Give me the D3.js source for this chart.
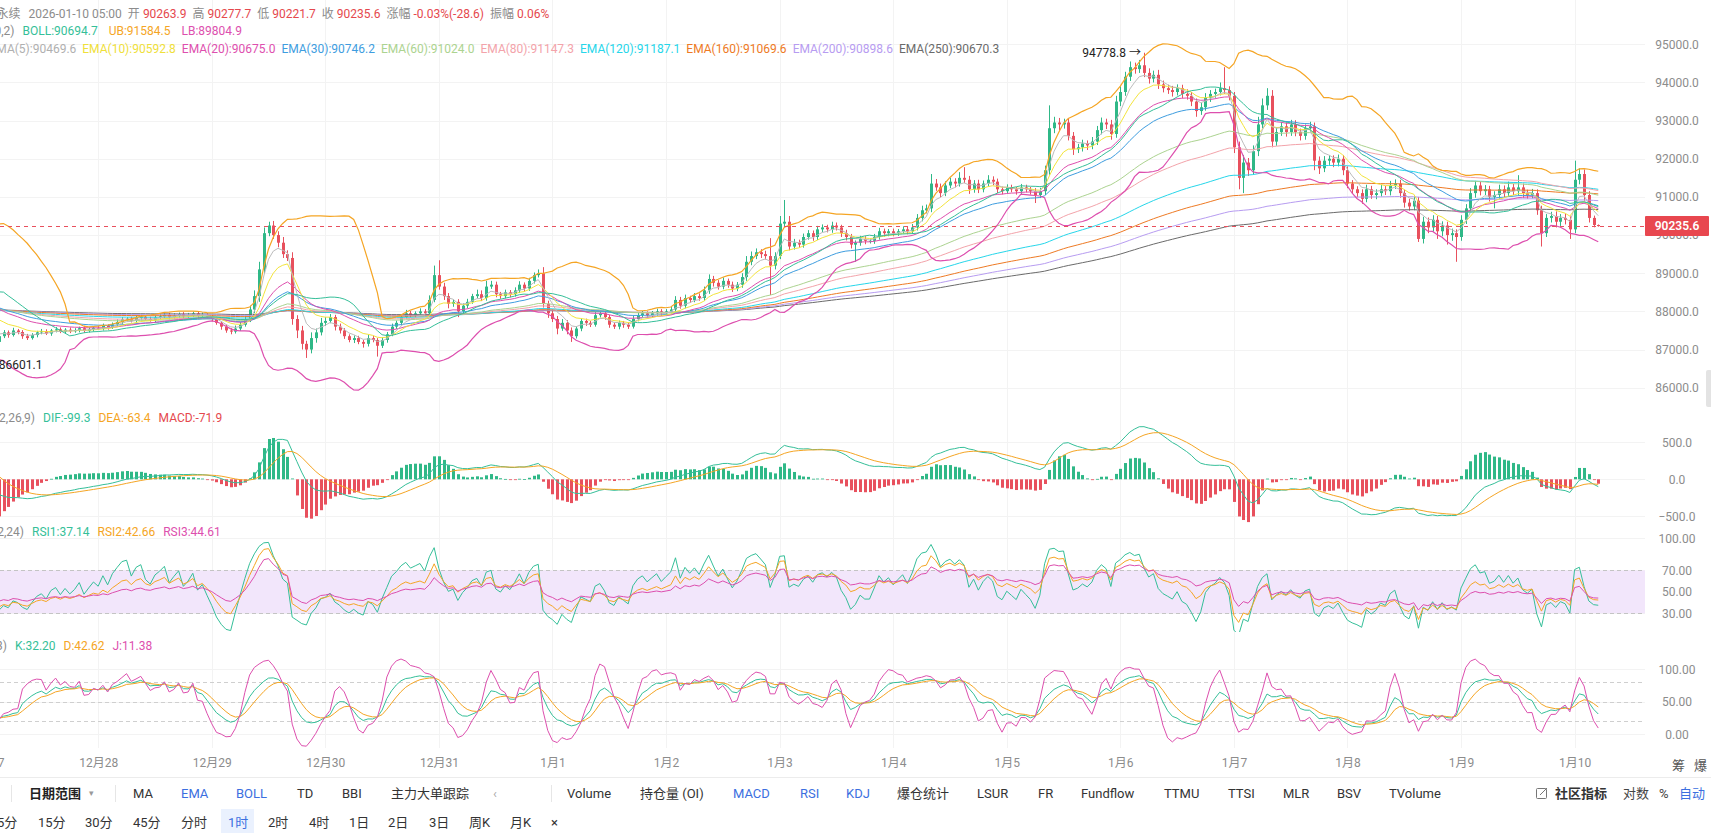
<!DOCTYPE html>
<html><head><meta charset="utf-8">
<script src="https://cdn.jsdelivr.net/npm/d3@7"></script>
<style>
html,body{margin:0;padding:0;background:#fff;overflow:hidden}
svg{display:block;font-family:Roboto,"Noto Sans CJK SC",sans-serif}
</style></head><body>
<svg id="c" width="1711" height="833"></svg>
<script>
// ---------------- DATA ----------------
const startUTC = Date.UTC(2025, 11, 26, 0);   // first hourly candle
const firstOpen = 87550;
const closes = [
 87600,87550,87650,87600,87500,87580,87620,87550,87600,89300,89250,89350,89200,89150,89200,89050,89100,88950,89000,88900,88850,88950,88900,87100,
 86850,87000,87200,87350,87450,87380,87500,87460,87350,87300,87380,87450,87480,87420,87500,87530,87470,87520,87480,87510,87560,87490,87530,87570,
 87550,87620,87580,87660,87720,87790,87810,87750,87830,87860,87800,87780,87840,87870,87910,87850,87890,87930,87870,87900,87950,87880,87910,87860,
 87800,87700,87600,87500,87470,87550,87650,87800,88050,88400,89100,90050,90250,90000,89800,89500,89400,87800,87500,87150,87000,87300,87450,87700,
 87750,87850,87600,87500,87350,87250,87300,87200,87150,87300,87250,87100,87250,87400,87600,87700,87850,87950,87900,87950,88000,87950,88300,88950,
 88650,88400,88200,88250,88000,88150,88250,88400,88450,88350,88650,88700,88450,88400,88500,88450,88550,88700,88600,88800,88950,89000,88200,87950,
 87800,87550,87700,87500,87350,87550,87750,87700,87650,87900,87950,87850,87650,87600,87700,87650,87600,87800,87900,87950,87900,87950,88000,87950,
 88000,88050,88300,88150,88350,88300,88400,88350,88550,88850,88750,88650,88800,88700,88600,88700,88900,89300,89450,89550,89500,89450,89200,89450,
 90300,90350,89700,89800,89750,89950,90050,89950,90150,90200,90150,90250,90200,90050,89950,89750,89800,89900,89850,89850,89950,90100,90050,90100,
 90050,90100,90150,90100,90200,90450,90650,90700,91350,91250,91100,91300,91400,91350,91500,91450,91200,91350,91200,91350,91450,91400,91200,91150,
 91250,91200,91150,91250,91200,91150,91050,91150,91700,92800,92950,92900,92950,92600,92250,92300,92400,92350,92450,92750,92950,92900,92650,93500,
 93750,94150,94400,94350,94450,94250,94100,94200,93950,93850,93800,93750,93850,93700,93650,93500,93250,93350,93600,93700,93750,93850,93800,93650,
 92300,91500,91900,91700,92200,92900,93400,93650,92450,92700,92850,92700,92900,92700,92600,92800,92850,91950,91750,91950,92000,91900,92000,91700,
 91350,91200,91100,90950,91200,91050,91100,91200,91150,91300,91350,91100,90850,90750,90900,89900,90350,90200,90400,90100,90250,90000,90050,89950,
 90400,90700,91100,91300,91150,91200,91000,91050,91200,91100,91250,91150,91250,91100,91050,91100,90650,90050,90450,90500,90350,90450,90400,90150,
 91450,91600,91050,90450,90263.9,90235.6
];
const upperWicks = [
 60,50,80,40,50,60,40,50,70,150,60,80,50,60,70,50,60,80,50,60,70,50,60,90,
 150,100,80,70,60,50,70,40,50,60,50,40,60,50,40,60,50,40,60,50,40,60,50,40,
 50,60,40,50,70,60,40,50,60,50,40,60,50,70,40,50,60,40,50,60,40,50,60,40,
 50,60,40,50,60,80,70,90,100,150,200,150,100,120,100,150,100,150,100,120,80,150,100,130,
 100,80,60,80,60,50,70,60,50,80,60,50,70,60,80,60,50,90,60,50,80,60,120,250,
 390,100,80,60,70,60,80,60,120,100,150,100,80,60,70,60,80,90,60,80,70,100,160,80,
 100,80,100,70,80,60,70,60,50,80,60,70,60,50,60,50,60,80,70,60,50,60,70,60,
 60,70,100,80,90,60,80,70,100,120,80,70,90,60,80,70,100,150,120,100,80,90,470,100,
 200,570,150,100,80,90,80,70,90,80,70,100,80,70,90,80,60,80,70,60,80,90,70,60,
 70,60,80,70,90,100,120,100,250,120,100,110,100,90,150,280,100,90,100,80,120,90,80,70,
 80,70,60,90,70,60,80,90,120,600,150,120,100,110,100,90,100,80,120,110,130,100,120,150,
 150,130,150,120,140,328.8,120,110,130,100,90,110,100,90,120,100,80,110,120,100,90,150,550,100,
 100,150,200,120,150,200,180,200,150,120,110,100,120,110,90,100,120,100,110,120,100,90,110,100,
 100,90,80,100,120,90,100,110,90,120,110,100,90,100,110,100,130,110,120,100,110,100,120,100,
 120,110,130,120,100,110,90,100,120,100,150,90,320,100,90,110,100,120,100,110,120,100,110,90,
 500,150,120,100,60,13.8
];
const lowerWicks = [
 50,60,40,60,50,40,60,50,40,80,60,40,50,40,60,80,60,70,50,60,80,70,60,498.9,
 150,100,80,60,50,70,40,60,70,50,40,60,50,40,60,50,40,60,50,40,60,50,40,60,
 40,50,60,40,50,60,50,40,60,50,40,50,60,40,50,60,40,50,60,40,50,60,40,50,
 60,50,80,60,70,50,60,50,80,100,150,120,80,100,120,100,80,150,200,150,220,100,120,80,
 80,60,100,80,70,60,80,60,100,70,60,285,60,70,50,60,70,50,60,70,50,60,80,60,
 80,100,120,80,150,60,70,50,60,80,70,60,80,70,60,80,60,70,80,60,70,60,100,120,
 80,150,60,100,150,60,70,80,60,50,60,70,80,60,70,80,60,50,60,70,60,50,60,70,
 60,50,60,80,70,80,60,70,80,90,100,80,70,80,90,70,80,100,90,80,100,90,770,100,
 80,100,100,80,90,80,70,100,80,70,80,90,80,100,90,100,450,80,90,70,80,70,90,80,
 80,70,60,80,70,80,90,80,100,90,110,80,70,100,80,90,120,90,100,80,70,90,100,80,
 70,80,90,70,80,90,210,80,100,120,130,150,110,120,150,100,110,120,100,90,110,120,150,100,
 120,100,110,120,100,110,130,100,120,110,100,120,90,110,100,120,150,100,90,110,100,90,100,120,
 150,300,400,150,120,130,100,120,150,110,100,120,100,110,120,100,90,250,150,100,110,120,100,130,
 120,100,110,130,90,100,110,90,100,110,90,120,130,110,100,80,120,150,110,200,130,250,150,650,
 100,110,100,120,110,100,120,300,100,110,90,100,110,120,100,90,120,350,100,120,150,110,120,250,
 100,120,150,120,60,13.9
];
const emaPeriods = [5,10,20,30,60,80,120,160,200,250];
const emaSeeds   = [87600,87600,87600,87650,87800,87850,87900,87950,87970,87990];
const emaColors  = ["#bcbcbc","#f3e43c","#de4fae","#3e9ddf","#acd390","#f3a3aa","#26d6ea","#ee7a24","#b79cf1","#6a6a6a"];
const emaLegend  = ["EMA(5):90469.6","EMA(10):90592.8","EMA(20):90675.0","EMA(30):90746.2","EMA(60):91024.0","EMA(80):91147.3","EMA(120):91187.1","EMA(160):91069.6","EMA(200):90898.6","EMA(250):90670.3"];
const bollLegend = ["BOLL:90694.7","UB:91584.5","LB:89804.9"];
const macdLegend = ["DIF:-99.3","DEA:-63.4","MACD:-71.9"];
const rsiLegend  = ["RSI1:37.14","RSI2:42.66","RSI3:44.61"];
const kdjLegend  = ["K:32.20","D:42.62","J:11.38"];
const headerLabels = ["开","高","低","收","涨幅","振幅"];
const headerValues = ["90263.9","90277.7","90221.7","90235.6","-0.03%(-28.6)","0.06%"];
const xLabels = ["12月27","12月28","12月29","12月30","12月31","1月1","1月2","1月3","1月4","1月5","1月6","1月7","1月8","1月9","1月10"];
const priceTicks = [86000,87000,88000,89000,90000,91000,92000,93000,94000,95000];
const macdTicks = [-500,0,500];
const rsiTicks = [30,50,70,100];
const kdjTicks = [0,50,100];
const toolbarItems = ["MA","EMA","BOLL","TD","BBI","主力大单跟踪","Volume","持仓量 (OI)","MACD","RSI","KDJ","爆仓统计","LSUR","FR","Fundflow","TTMU","TTSI","MLR","BSV","TVolume"];
const toolbarActive = ["EMA","BOLL","MACD","RSI","KDJ"];
const periods = ["5分","15分","30分","45分","分时","1时","2时","4时","1日","2日","3日","周K","月K","×"];
const activePeriod = "1时";

// ---------------- LAYOUT (pixel positions of toolbar texts) ----------------
const toolbarX = [133,181,236,297,342,391,567,640,733,800,846,897,977,1038,1081,1164,1228,1283,1337,1389];
const periodX = [-3,38,85,133,181,228,268,309,349,388,429,469,510,551];

// ---------------- COLORS ----------------
const UP = "#2fb887", DOWN = "#e8505d", TEAL = "#35bf99", ORANGE = "#f5a524", MAG = "#dd4fae", GRAY = "#8c8c8c", BLUE = "#3b6fe0";

// ---------------- SETUP ----------------
const svg = d3.select("#c");
const PR = 1645;
const hour = 3600000;
const candles = closes.map((c, i) => {
  const o = i ? closes[i - 1] : firstOpen;
  return { t: new Date(startUTC + i * hour), o, c, h: Math.max(o, c) + upperWicks[i], l: Math.min(o, c) - lowerWicks[i] };
});
const times = candles.map(d => d.t);

const x = d3.scaleUtc().domain([new Date(Date.UTC(2025, 11, 27)), new Date(Date.UTC(2026, 0, 10))]).range([-15.4, 1574.6]);
const yP = d3.scaleLinear().domain([86000, 95000]).range([387.7, 44.3]);
const yM = d3.scaleLinear().domain([-500, 500]).range([516.3, 442.3]);
const yR = d3.scaleLinear().domain([30, 100]).range([613.3, 538.3]);
const yK = d3.scaleLinear().domain([0, 100]).range([734.3, 669.3]);

// ---------------- INDICATORS ----------------
function ema(arr, n, seed) { let e = seed; return arr.map(v => (e = (2 * v + (n - 1) * e) / (n + 1))); }
const emas = emaPeriods.map((n, k) => ema(closes, n, emaSeeds[k]));
const boll = closes.map((c, i) => {
  if (i < 19) return null;
  const w = closes.slice(i - 19, i + 1);
  const m = d3.mean(w);
  const sd = Math.sqrt(d3.mean(w, v => (v - m) * (v - m)));
  return { m, u: m + 2 * sd, l: m - 2 * sd };
});
const e12 = ema(closes, 12, closes[0]), e26 = ema(closes, 26, closes[0]);
const dif = e12.map((v, i) => v - e26[i]);
const dea = ema(dif, 9, 0);
const macd = dif.map((v, i) => 2 * (v - dea[i]));
function rsi(n) {
  let up = 10, all = 20;
  return closes.map((c, i) => {
    if (i === 0) return 50;
    const ch = c - closes[i - 1];
    up = (Math.max(ch, 0) + (n - 1) * up) / n;
    all = (Math.abs(ch) + (n - 1) * all) / n;
    return all === 0 ? 50 : 100 * up / all;
  });
}
const rsi1 = rsi(6), rsi2 = rsi(12), rsi3 = rsi(24);
let K = 50, D = 50;
const kArr = [], dArr = [], jArr = [];
candles.forEach((d, i) => {
  const w = candles.slice(Math.max(0, i - 8), i + 1);
  const lo = d3.min(w, v => v.l), hi = d3.max(w, v => v.h);
  const rsv = hi === lo ? 50 : (d.c - lo) / (hi - lo) * 100;
  K = (2 * K + rsv) / 3; D = (2 * D + K) / 3;
  kArr.push(K); dArr.push(D); jArr.push(3 * K - 2 * D);
});

// ---------------- CLIPS ----------------
const defs = svg.append("defs");
function clip(id, y0, y1) { defs.append("clipPath").attr("id", id).append("rect").attr("x", 0).attr("y", y0).attr("width", PR).attr("height", y1 - y0); }
clip("cMain", 0, 398); clip("cMacd", 400, 527); clip("cRsi", 527, 632); clip("cKdj", 632, 748);

// ---------------- GRID ----------------
const grid = svg.append("g").attr("stroke", "#f3f3f3").attr("stroke-width", 1);
const dayTicks = xLabels.map((_, k) => new Date(Date.UTC(2025, 11, 27 + k)));
grid.selectAll("line.v").data(dayTicks).join("line").attr("x1", d => Math.round(x(d)) + 0.5).attr("x2", d => Math.round(x(d)) + 0.5).attr("y1", 0).attr("y2", 748);
const hLines = [...priceTicks.map(v => yP(v)), ...macdTicks.map(v => yM(v)), ...rsiTicks.map(v => yR(v)), ...kdjTicks.map(v => yK(v))];
grid.selectAll("line.h").data(hLines).join("line").attr("x1", 0).attr("x2", PR).attr("y1", d => Math.round(d) + 0.5).attr("y2", d => Math.round(d) + 0.5);

// ---------------- MAIN PANEL ----------------
const gMain = svg.append("g").attr("clip-path", "url(#cMain)");
const line = (arr, ys) => d3.line().defined(v => v != null && isFinite(v)).x((v, i) => x(times[i])).y(v => ys(v))(arr);

const gC = gMain.append("g");
gC.selectAll("line").data(candles).join("line")
  .attr("x1", d => Math.round(x(d.t)) + 0.5).attr("x2", d => Math.round(x(d.t)) + 0.5)
  .attr("y1", d => yP(d.h)).attr("y2", d => yP(d.l))
  .attr("stroke", d => d.c >= d.o ? UP : DOWN).attr("stroke-width", 1);
gC.selectAll("rect").data(candles).join("rect")
  .attr("x", d => Math.round(x(d.t)) - 1).attr("width", 3)
  .attr("y", d => yP(Math.max(d.o, d.c)))
  .attr("height", d => Math.max(1, yP(Math.min(d.o, d.c)) - yP(Math.max(d.o, d.c))))
  .attr("fill", d => d.c >= d.o ? UP : DOWN);

emas.map((arr, k) => ({ arr, k })).reverse().forEach(({ arr, k }) => {
  gMain.append("path").attr("d", line(arr, yP)).attr("fill", "none").attr("stroke", emaColors[k]).attr("stroke-width", 1);
});
gMain.append("path").attr("d", line(boll.map(b => b && b.u), yP)).attr("fill", "none").attr("stroke", ORANGE).attr("stroke-width", 1.2);
gMain.append("path").attr("d", line(boll.map(b => b && b.l), yP)).attr("fill", "none").attr("stroke", MAG).attr("stroke-width", 1.2);
gMain.append("path").attr("d", line(boll.map(b => b && b.m), yP)).attr("fill", "none").attr("stroke", TEAL).attr("stroke-width", 1);

const last = candles[candles.length - 1];
svg.append("line").attr("x1", 0).attr("x2", PR).attr("y1", Math.round(yP(last.c)) + 0.5).attr("y2", Math.round(yP(last.c)) + 0.5)
  .attr("stroke", DOWN).attr("stroke-dasharray", "4,4").attr("stroke-width", 1);

const hiC = candles.reduce((a, b) => b.h > a.h ? b : a);
const loC = candles.reduce((a, b) => b.l < a.l ? b : a);
gMain.append("text").attr("x", x(hiC.t) - 3).attr("y", yP(hiC.h) + 4).attr("text-anchor", "end").attr("font-size", 12).attr("fill", "#222").text(hiC.h.toFixed(1) + " →");
svg.append("text").attr("x", x(loC.t) + 4).attr("y", yP(loC.l) + 4).attr("text-anchor", "start").attr("font-size", 12).attr("fill", "#222").text("← " + loC.l.toFixed(1));

// ---------------- MACD PANEL ----------------
const gMacd = svg.append("g").attr("clip-path", "url(#cMacd)");
gMacd.selectAll("rect").data(macd).join("rect")
  .attr("x", (v, i) => Math.round(x(times[i])) - 1).attr("width", 3)
  .attr("y", v => Math.min(yM(v), yM(0))).attr("height", v => Math.max(0.8, Math.abs(yM(v) - yM(0))))
  .attr("fill", v => v >= 0 ? UP : DOWN);
gMacd.append("path").attr("d", line(dif, yM)).attr("fill", "none").attr("stroke", TEAL).attr("stroke-width", 1);
gMacd.append("path").attr("d", line(dea, yM)).attr("fill", "none").attr("stroke", ORANGE).attr("stroke-width", 1);

// ---------------- RSI PANEL ----------------
const gRsi = svg.append("g").attr("clip-path", "url(#cRsi)");
gRsi.append("rect").attr("x", 0).attr("width", PR).attr("y", yR(70)).attr("height", yR(30) - yR(70)).attr("fill", "#f2e6fb");
[70, 30].forEach(v => gRsi.append("line").attr("x1", 0).attr("x2", PR).attr("y1", Math.round(yR(v)) + 0.5).attr("y2", Math.round(yR(v)) + 0.5).attr("stroke", "#c4c4c4").attr("stroke-dasharray", "4,3"));
gRsi.append("path").attr("d", line(rsi1, yR)).attr("fill", "none").attr("stroke", TEAL).attr("stroke-width", 1);
gRsi.append("path").attr("d", line(rsi2, yR)).attr("fill", "none").attr("stroke", ORANGE).attr("stroke-width", 1);
gRsi.append("path").attr("d", line(rsi3, yR)).attr("fill", "none").attr("stroke", MAG).attr("stroke-width", 1);

// ---------------- KDJ PANEL ----------------
const gKdj = svg.append("g").attr("clip-path", "url(#cKdj)");
[80, 50, 20].forEach(v => gKdj.append("line").attr("x1", 0).attr("x2", PR).attr("y1", Math.round(yK(v)) + 0.5).attr("y2", Math.round(yK(v)) + 0.5).attr("stroke", "#cfcfcf").attr("stroke-dasharray", "4,3"));
gKdj.append("path").attr("d", line(kArr, yK)).attr("fill", "none").attr("stroke", TEAL).attr("stroke-width", 1);
gKdj.append("path").attr("d", line(dArr, yK)).attr("fill", "none").attr("stroke", ORANGE).attr("stroke-width", 1);
gKdj.append("path").attr("d", line(jArr, yK)).attr("fill", "none").attr("stroke", MAG).attr("stroke-width", 1);

// ---------------- AXES ----------------
function rightAxis(scale, ticks, fmt) {
  const g = svg.append("g").attr("transform", "translate(1677,0)")
    .call(d3.axisRight(scale).tickValues(ticks).tickFormat(d3.format(fmt)).tickSize(0).tickPadding(0));
  g.select(".domain").remove();
  g.selectAll("text").attr("x", 0).attr("text-anchor", "middle").attr("fill", GRAY).attr("font-size", 12).attr("font-family", "Roboto, sans-serif");
}
rightAxis(yP, priceTicks, ".1f");
rightAxis(yM, macdTicks, ".1f");
rightAxis(yR, rsiTicks, ".2f");
rightAxis(yK, kdjTicks, ".2f");

const gx = svg.append("g").attr("transform", "translate(0,758)")
  .call(d3.axisBottom(x).tickValues(dayTicks).tickFormat((d, i) => xLabels[i]).tickSize(0).tickPadding(0));
gx.select(".domain").remove();
gx.selectAll("text").attr("fill", GRAY).attr("font-size", 12).attr("font-family", "Roboto, 'Noto Sans CJK SC', sans-serif");

const yl = yP(last.c);
svg.append("rect").attr("x", 1645).attr("y", yl - 10).attr("width", 64).attr("height", 20).attr("fill", "#e8474f").attr("rx", 1);
svg.append("text").attr("x", 1677).attr("y", yl + 4.3).attr("text-anchor", "middle").attr("fill", "#fff").attr("font-size", 12).attr("font-weight", 600).text(last.c.toFixed(1));

svg.append("rect").attr("x", 1706).attr("y", 370).attr("width", 6).attr("height", 37).attr("fill", "#e3e3e3").attr("rx", 2);

// ---------------- LEGENDS ----------------
const gL = svg.append("g").attr("font-size", 12);
function row(items, x0, y, gap) {
  let xx = x0;
  items.forEach(([t, col]) => {
    const el = gL.append("text").attr("x", xx).attr("y", y).attr("fill", col).text(t);
    xx += el.node().getComputedTextLength() + gap;
  });
}
(function () {
  let xx = -3.6;
  const put = (t, col, gap) => { const el = gL.append("text").attr("x", xx).attr("y", 17.5).attr("fill", col).text(t); xx += el.node().getComputedTextLength() + gap; };
  put("永续", GRAY, 8);
  put("2026-01-10 05:00", GRAY, 6);
  headerLabels.forEach((lab, i) => { put(lab, GRAY, 3); put(headerValues[i], "#e5484d", 6); });
})();
function prefixed(label, endX, y, items, colors, gap) {
  gL.append("text").attr("x", endX).attr("y", y).attr("text-anchor", "end").attr("fill", GRAY).text(label);
  row(items.map((t, i) => [t, colors[i]]), endX + 8, y, gap);
}
prefixed("BOLL(20,2)", 14.5, 35, bollLegend, [TEAL, ORANGE, MAG], 11);
row(emaLegend.map((t, i) => [t, i === 0 ? "#b0b0b0" : (i === 1 ? "#efe03a" : emaColors[i])]), -10.5, 53, 6);
prefixed("MACD(12,26,9)", 35, 422, macdLegend, [TEAL, ORANGE, "#e5484d"], 8);
prefixed("RSI(6,12,24)", 24, 536, rsiLegend, [TEAL, ORANGE, MAG], 8);
prefixed("KDJ(9,3,3)", 7, 650, kdjLegend, [TEAL, ORANGE, MAG], 8);

svg.append("text").attr("x", 1672).attr("y", 769.5).attr("font-size", 13).attr("fill", "#555").text("筹");
svg.append("text").attr("x", 1694).attr("y", 769.5).attr("font-size", 13).attr("fill", "#555").text("爆");

// ---------------- TOOLBAR ----------------
svg.append("line").attr("x1", 0).attr("x2", 1711).attr("y1", 777.5).attr("y2", 777.5).attr("stroke", "#ececec");
const tb = svg.append("g").attr("font-size", 13);
[11, 115, 551].forEach(xv => tb.append("line").attr("x1", xv + 0.5).attr("x2", xv + 0.5).attr("y1", 785).attr("y2", 802).attr("stroke", "#e6e6e6"));
tb.append("text").attr("x", 29).attr("y", 797.5).attr("font-weight", 700).attr("fill", "#222").text("日期范围");
tb.append("text").attr("x", 89).attr("y", 796).attr("font-size", 9).attr("fill", "#999").text("▾");
toolbarItems.forEach((t, i) => tb.append("text").attr("x", toolbarX[i]).attr("y", 797.5).attr("fill", toolbarActive.includes(t) ? BLUE : "#333").text(t));
tb.append("text").attr("x", 493).attr("y", 797.5).attr("fill", "#aaa").text("‹");
tb.append("rect").attr("x", 1536.5).attr("y", 788.5).attr("width", 10).attr("height", 10).attr("fill", "none").attr("stroke", "#777").attr("rx", 1);
tb.append("line").attr("x1", 1540).attr("y1", 795).attr("x2", 1547).attr("y2", 788).attr("stroke", "#777");
tb.append("text").attr("x", 1555).attr("y", 797.5).attr("font-weight", 700).attr("fill", "#333").text("社区指标");
tb.append("text").attr("x", 1623).attr("y", 797.5).attr("fill", "#444").text("对数");
tb.append("text").attr("x", 1659).attr("y", 797.5).attr("fill", "#444").text("%");
tb.append("text").attr("x", 1679).attr("y", 797.5).attr("fill", BLUE).text("自动");

svg.append("rect").attr("x", 221).attr("y", 809).attr("width", 33).attr("height", 24).attr("fill", "#eaf1fe");
const pr = svg.append("g").attr("font-size", 13);
periods.forEach((t, i) => pr.append("text").attr("x", periodX[i]).attr("y", 826.5).attr("fill", t === activePeriod ? BLUE : "#333").text(t));
</script>
</body></html>
